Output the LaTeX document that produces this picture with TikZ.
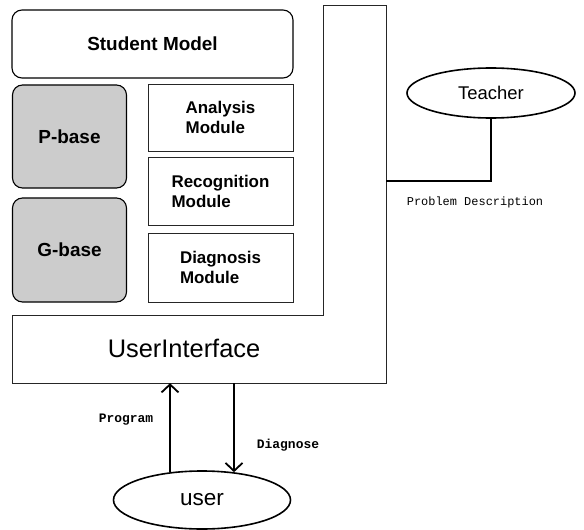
\documentclass[tikz,border=0pt]{standalone}
\usepackage{fontspec}
\setmainfont{Liberation Sans}
\newfontfamily\labelmono{Liberation Mono}
\usetikzlibrary{shapes.geometric,arrows.meta}

\begin{document}
\begin{tikzpicture}[x=1bp,y=-1bp,
  frame/.style={draw=black!85, line width=0.8bp},
  roundbox/.style={draw, line width=1.1bp, rounded corners=10bp, inner sep=0pt},
  basebox/.style={roundbox, fill=black!20},
  modbox/.style={draw=black!85, line width=0.8bp, inner sep=0pt,
    align=left, font=\bfseries\fontsize{17}{20}\selectfont},
  actor/.style={ellipse, draw, line width=1.6bp, inner sep=0pt},
  link/.style={line width=2.2bp},
  flow/.style={line width=2bp,
    -{Straight Barb[length=8bp,width=17bp,line width=1.8bp]}},
  smalllabel/.style={font=\labelmono\bfseries\fontsize{13}{15}\selectfont},
]
\useasboundingbox (0,0) rectangle (584,530);

% L-shaped frame: user interface strip and the bar on the right
\draw[frame] (12,315) -- (323,315) -- (323,5) -- (386,5) -- (386,383)
  -- (12,383) -- cycle;
\node[minimum width=374bp, minimum height=68bp, inner sep=0pt] (ui) at (199,349) {};
\node[font=\fontsize{25.5}{28}\selectfont] (uitext) at (184,348) {UserInterface};

% student model and its parts
\node[roundbox, minimum width=281bp, minimum height=68bp,
  font=\bfseries\fontsize{19}{22}\selectfont] (sm) at (152.5,44) {Student Model};
\node[basebox, minimum width=114bp, minimum height=103bp,
  font=\bfseries\fontsize{19}{22}\selectfont] (pbase) at (69.5,136.5) {P-base};
\node[basebox, minimum width=114bp, minimum height=104bp,
  font=\bfseries\fontsize{19}{22}\selectfont] (gbase) at (69.5,250) {G-base};

\node[modbox, minimum width=145bp, minimum height=67bp] (ana) at (220.5,117.5)
  {Analysis\\Module};
\node[modbox, minimum width=145bp, minimum height=68bp] (rec) at (220.5,191)
  {Recognition\\Module};
\node[modbox, minimum width=145bp, minimum height=69bp] (dia) at (220.5,267.5)
  {Diagnosis\\Module};

% teacher
\node[actor, minimum width=168bp, minimum height=50bp,
  font=\fontsize{18.5}{21}\selectfont] (teacher) at (491,93) {Teacher};
\coordinate (pd) at (386,181);
\draw[link] (teacher.south) |- (pd);
\node[font=\labelmono\fontsize{12}{14}\selectfont] (pdlabel) at (475,202)
  {Problem Description};

% user
\node[actor, minimum width=177bp, minimum height=58bp,
  font=\fontsize{22.6}{25}\selectfont] (user) at (202,500) {user};
\draw[flow] (user.139.8) -- (user.139.8 |- ui.south);
\draw[flow] (user.41.2 |- ui.south) -- (user.41.2);
\node[smalllabel] (prog) at (126,420) {Program};
\node[smalllabel] (diag) at (288,445) {Diagnose};
\end{tikzpicture}
\end{document}
